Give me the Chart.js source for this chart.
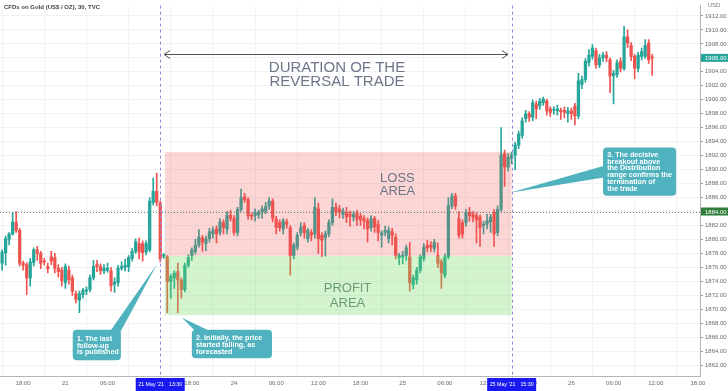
<!DOCTYPE html>
<html>
<head>
<meta charset="utf-8">
<script src="https://cdn.jsdelivr.net/npm/chart.js@4.4.0/dist/chart.umd.min.js"></script>
<style>
  html, body { margin: 0; padding: 0; background: #fff; }
  #wrap { width: 728px; height: 391px; }
</style>
</head>
<body>
<div id="wrap"><canvas id="chart" width="728" height="391"></canvas></div>
<script>
// ---- data (30 min candles, bar index 0 = 20 May 18:00) ----
const firstBar = -6;

const openP = [
  1876.6, 1878.1, 1880.0, 1880.8, 1882.5, 1881.3,
  1876.6, 1876.4, 1874.5, 1876.7, 1878.5, 1878.0, 1876.9, 1876.1, 1877.5, 1877.4,
  1875.9, 1875.6, 1873.8, 1875.6, 1874.5, 1872.2, 1871.3, 1872.1, 1872.6, 1872.8,
  1874.5, 1876.4, 1876.1, 1875.5, 1875.6, 1875.5, 1873.6, 1873.8, 1875.9, 1876.0,
  1876.1, 1877.3, 1878.3, 1879.4, 1879.4, 1878.2, 1878.5, 1885.3, 1886.9, 1885.2,
  1877.6, 1877.5, 1874.0, 1874.5, 1875.4, 1874.2, 1872.8, 1876.3, 1877.7, 1878.3,
  1879.2, 1880.2, 1879.4, 1880.1, 1880.8, 1881.5, 1881.0, 1882.4, 1881.5, 1883.5,
  1883.0, 1881.0, 1884.3, 1886.1, 1885.7, 1883.4, 1883.4, 1883.5, 1883.9, 1884.1,
  1884.8, 1885.5, 1882.9, 1882.4, 1881.5, 1882.5, 1881.7, 1877.7, 1878.9, 1880.9,
  1882.0, 1880.1, 1881.0, 1880.8, 1884.4, 1880.6, 1880.3, 1880.8, 1882.4, 1884.6,
  1884.4, 1883.6, 1883.9, 1883.6, 1883.2, 1883.8, 1883.3, 1883.0, 1882.7, 1881.7,
  1883.0, 1882.2, 1880.6, 1881.0, 1880.1, 1881.1, 1880.3, 1877.4, 1877.5, 1877.7,
  1877.5, 1873.5, 1874.2, 1875.6, 1877.3, 1879.2, 1879.2, 1878.7, 1877.7, 1876.8,
  1874.9, 1877.5, 1884.8, 1886.2, 1883.0, 1882.4, 1882.4, 1883.9, 1883.6, 1883.4,
  1883.2, 1882.0, 1882.2, 1882.5, 1883.9, 1881.0, 1884.3, 1892.3, 1890.4, 1891.6,
  1892.1, 1893.5, 1894.9, 1897.3, 1898.0, 1897.5, 1899.4, 1899.1, 1899.6, 1899.8,
  1898.7, 1898.5, 1898.4, 1898.5, 1898.5, 1898.0, 1898.4, 1899.1, 1897.7, 1902.2,
  1902.9, 1905.3, 1906.2, 1907.0, 1905.0, 1906.0, 1906.4, 1905.7, 1903.4, 1903.6,
  1905.5, 1904.5, 1909.0, 1907.8, 1906.2, 1904.5, 1906.2, 1906.2, 1908.1, 1906.1
];
const highP = [
  1878.5, 1880.5, 1881.0, 1883.9, 1884.0, 1881.6,
  1876.9, 1876.7, 1877.3, 1878.8, 1879.0, 1878.3, 1877.3, 1876.6, 1878.3, 1878.0,
  1876.4, 1876.0, 1876.5, 1876.2, 1874.9, 1872.6, 1872.6, 1873.0, 1873.2, 1874.9,
  1877.0, 1877.0, 1876.5, 1876.4, 1876.6, 1876.0, 1874.5, 1876.3, 1876.8, 1877.2,
  1877.7, 1878.7, 1880.1, 1880.2, 1879.8, 1879.8, 1886.0, 1888.8, 1889.5, 1885.5,
  1878.0, 1877.7, 1875.0, 1875.5, 1876.6, 1874.5, 1876.6, 1877.8, 1878.8, 1880.0,
  1881.4, 1880.6, 1880.5, 1881.6, 1881.8, 1881.9, 1883.0, 1882.8, 1884.0, 1884.2,
  1883.4, 1884.6, 1887.2, 1886.6, 1886.0, 1883.8, 1884.4, 1884.2, 1884.8, 1885.3,
  1886.0, 1885.8, 1883.3, 1882.8, 1883.0, 1882.9, 1882.0, 1879.5, 1881.0, 1882.4,
  1882.4, 1881.6, 1881.4, 1886.0, 1885.2, 1881.0, 1881.2, 1882.8, 1885.8, 1885.2,
  1884.9, 1884.5, 1884.6, 1884.1, 1884.0, 1884.2, 1883.7, 1883.4, 1883.1, 1883.4,
  1883.3, 1882.7, 1881.2, 1881.9, 1881.8, 1881.6, 1880.8, 1878.0, 1878.3, 1879.2,
  1879.6, 1874.9, 1876.0, 1877.8, 1879.4, 1879.9, 1879.7, 1880.0, 1879.5, 1877.2,
  1877.9, 1886.0, 1886.6, 1886.6, 1884.0, 1882.8, 1884.3, 1884.6, 1884.0, 1883.8,
  1883.5, 1882.6, 1883.6, 1883.6, 1884.3, 1884.8, 1896.0, 1892.8, 1892.3, 1892.5,
  1893.9, 1895.5, 1897.4, 1898.5, 1898.3, 1900.0, 1899.8, 1900.2, 1900.4, 1900.1,
  1899.0, 1899.0, 1899.2, 1898.8, 1899.0, 1898.9, 1898.8, 1899.5, 1903.8, 1903.4,
  1905.9, 1907.2, 1907.9, 1907.4, 1906.5, 1906.8, 1906.9, 1906.0, 1904.2, 1905.7,
  1906.0, 1910.5, 1910.0, 1908.2, 1906.5, 1906.8, 1907.4, 1908.6, 1908.6, 1906.5
];
const lowP = [
  1875.6, 1876.3, 1879.2, 1880.6, 1881.0, 1876.2,
  1875.6, 1872.1, 1873.3, 1876.2, 1877.0, 1875.8, 1876.3, 1875.2, 1876.4, 1875.2,
  1874.6, 1873.3, 1873.0, 1873.6, 1872.0, 1870.9, 1869.5, 1871.6, 1872.1, 1872.5,
  1874.2, 1875.4, 1875.0, 1875.1, 1875.3, 1872.6, 1872.4, 1873.3, 1875.6, 1875.5,
  1875.4, 1876.9, 1878.0, 1877.2, 1876.9, 1877.8, 1878.2, 1884.9, 1884.8, 1876.8,
  1877.3, 1869.5, 1871.6, 1873.0, 1869.5, 1871.6, 1872.5, 1876.0, 1877.0, 1877.9,
  1878.9, 1878.3, 1878.4, 1879.6, 1880.2, 1879.5, 1880.6, 1880.8, 1880.8, 1882.6,
  1880.6, 1880.5, 1884.0, 1885.3, 1882.9, 1882.8, 1882.6, 1883.0, 1883.0, 1883.7,
  1884.3, 1882.5, 1880.8, 1881.2, 1880.8, 1881.6, 1874.9, 1877.2, 1878.5, 1880.5,
  1880.2, 1879.6, 1879.8, 1880.2, 1878.0, 1877.5, 1877.6, 1880.4, 1882.0, 1883.4,
  1883.1, 1883.0, 1882.4, 1881.9, 1882.6, 1882.0, 1882.0, 1881.5, 1879.6, 1881.2,
  1881.0, 1879.8, 1878.9, 1880.5, 1879.5, 1879.2, 1877.2, 1876.4, 1876.5, 1877.0,
  1872.6, 1872.9, 1873.6, 1875.2, 1876.9, 1878.2, 1878.3, 1878.2, 1876.0, 1873.0,
  1874.5, 1877.2, 1884.4, 1884.3, 1880.2, 1880.2, 1881.9, 1882.6, 1882.5, 1879.5,
  1879.0, 1880.8, 1881.5, 1881.0, 1879.0, 1880.5, 1884.0, 1887.6, 1889.8, 1890.8,
  1890.0, 1893.0, 1894.5, 1896.8, 1896.9, 1897.0, 1897.3, 1898.6, 1899.2, 1897.8,
  1897.6, 1897.9, 1897.8, 1897.2, 1897.4, 1896.8, 1897.2, 1896.4, 1897.3, 1901.6,
  1902.5, 1904.8, 1905.8, 1904.5, 1904.6, 1905.5, 1905.4, 1901.0, 1899.4, 1903.2,
  1904.0, 1904.2, 1907.5, 1905.6, 1903.0, 1904.0, 1905.7, 1905.9, 1905.2, 1903.5
];
const closeP = [
  1878.2, 1880.1, 1880.8, 1882.5, 1881.3, 1876.6,
  1876.3, 1874.5, 1876.8, 1878.5, 1878.0, 1876.6, 1876.8, 1875.8, 1876.9, 1875.9,
  1875.4, 1874.1, 1876.1, 1874.2, 1872.6, 1871.4, 1872.2, 1872.7, 1872.8, 1874.5,
  1876.1, 1876.1, 1875.5, 1875.9, 1875.9, 1873.4, 1873.9, 1875.9, 1876.1, 1876.3,
  1877.4, 1878.3, 1879.7, 1878.2, 1878.1, 1879.4, 1885.5, 1886.9, 1885.3, 1877.2,
  1877.8, 1874.0, 1874.7, 1875.2, 1874.2, 1872.8, 1876.3, 1877.4, 1878.5, 1879.2,
  1880.3, 1879.6, 1880.1, 1881.1, 1881.3, 1880.8, 1882.5, 1881.7, 1883.5, 1883.0,
  1881.0, 1884.3, 1886.0, 1885.7, 1883.4, 1883.3, 1883.9, 1883.9, 1884.4, 1884.7,
  1885.5, 1883.0, 1881.7, 1881.7, 1882.7, 1882.2, 1877.7, 1879.2, 1880.6, 1881.7,
  1881.0, 1881.3, 1880.6, 1884.6, 1880.1, 1879.9, 1880.8, 1882.4, 1884.6, 1883.9,
  1883.9, 1884.1, 1883.2, 1883.3, 1883.6, 1882.9, 1882.8, 1882.6, 1881.5, 1883.0,
  1881.8, 1881.0, 1880.9, 1881.3, 1881.3, 1880.6, 1877.7, 1877.7, 1877.7, 1878.8,
  1873.8, 1874.5, 1875.6, 1877.5, 1878.9, 1878.8, 1878.9, 1879.6, 1876.6, 1875.2,
  1877.5, 1884.8, 1886.2, 1884.8, 1880.6, 1880.8, 1883.9, 1883.4, 1883.2, 1882.8,
  1881.7, 1882.2, 1882.7, 1883.2, 1880.8, 1884.3, 1892.1, 1890.4, 1891.8, 1892.1,
  1893.5, 1895.1, 1897.0, 1898.0, 1897.5, 1899.6, 1898.7, 1899.8, 1900.1, 1898.4,
  1898.2, 1898.6, 1898.7, 1898.3, 1898.2, 1898.4, 1898.0, 1897.7, 1902.7, 1902.9,
  1905.5, 1906.4, 1907.4, 1905.0, 1906.0, 1906.4, 1906.0, 1903.4, 1903.8, 1905.3,
  1904.5, 1909.0, 1908.1, 1906.2, 1904.5, 1906.4, 1906.9, 1907.8, 1905.7, 1906.0
];

const xTickBars = [0, 12, 24, 36, 48, 60, 72, 84, 96, 108, 120, 132, 144, 156, 168, 180, 192];
const xTickLabels = ['18:00', '21', '06:00', '12:00', '18:00', '24', '06:00', '12:00', '18:00',
                     '25', '06:00', '12:00', '18:00', '26', '06:00', '12:00', '18:00'];
const yTickValues = [1862, 1864, 1866, 1868, 1870, 1872, 1874, 1876, 1878, 1880, 1882, 1884, 1886,
                     1888, 1890, 1892, 1894, 1896, 1898, 1900, 1902, 1904, 1906, 1908, 1910, 1912];

// trade markers and zones
const markerBars = [39, 139];
const markerDates = ["21 May '21", "25 May '21"];
const markerTimes = ['13:30', '15:30'];
const zoneStartBar = 40.3;
const zoneEndBar = 139;
const stopLevel = 1892.5;
const entryLevel = 1877.65;
const targetLevel = 1869.15;
const refPrice = 1884;
const lastPrice = 1906;

const GREEN = '#26a69a';
const RED = '#ef5350';
const TEAL_BOX = '#4fb2be';
const SLATE = '#6c7689';

const callouts = [
  { fromBar: 14.1, toBar: 27.8, top: 1867.07, bottom: 1862.7, tip: [38.1, 1876.5],
    base: [[24.4, 1866.6], [27.5, 1866.6]], textTop: 9,
    lines: ['1. The last', 'follow-up', 'is published'] },
  { fromBar: 48.0, toBar: 70.8, top: 1867.07, bottom: 1863.0, tip: [45.2, 1868.8],
    base: [[49.5, 1866.6], [54.3, 1866.6]], textTop: 8.5,
    lines: ['2. Initially, the price', 'started falling, as', 'forecasted'] },
  { fromBar: 165.0, toBar: 185.8, top: 1893.17, bottom: 1886.26, tip: [138.5, 1886.7],
    base: [[165.6, 1890.6], [165.6, 1888.9]], textTop: 7.3,
    lines: ['3. The decisive', 'breakout above', 'the Distribution', 'range confirms the', 'termination of', 'the trade'] }
];

const candleColors = closeP.map((c, i) => (c >= openP[i] ? GREEN : RED));

const bodies = openP.map((o, i) => ({ x: firstBar + i, y: [o, closeP[i]] }));
const wicks = lowP.map((l, i) => ({ x: firstBar + i, y: [l, highP[i]] }));

// ---- overlays drawn with the chart's scales ----
const overlayPlugin = {
  id: 'overlay',
  afterDatasetsDraw(chart) {
    const { ctx, chartArea: area, scales: { x, y } } = chart;
    const px = v => x.getPixelForValue(v);
    const py = v => y.getPixelForValue(v);

    ctx.save();
    // loss / profit zones
    const zl = px(zoneStartBar), zr = px(zoneEndBar);
    ctx.fillStyle = 'rgba(239, 83, 80, 0.24)';
    ctx.fillRect(zl, py(stopLevel), zr - zl, py(entryLevel) - py(stopLevel));
    ctx.fillStyle = 'rgba(112, 220, 90, 0.3)';
    ctx.fillRect(zl, py(entryLevel), zr - zl, py(targetLevel) - py(entryLevel));

    ctx.textAlign = 'center';
    ctx.textBaseline = 'middle';
    ctx.font = '13px "Liberation Sans", Arial, sans-serif';
    ctx.fillStyle = SLATE;
    ctx.fillText('LOSS', px(106.5), py(1888.75));
    ctx.fillText('AREA', px(106.5), py(1886.9));
    ctx.fillStyle = '#6a9a7c';
    ctx.fillText('PROFIT', px(92.3), py(1873.0));
    ctx.fillText('AREA', px(92.3), py(1870.9));

    // reference price dotted line
    ctx.strokeStyle = '#6f7d72';
    ctx.lineWidth = 1;
    ctx.setLineDash([1, 2]);
    ctx.beginPath();
    ctx.moveTo(area.left, Math.round(py(refPrice)) + 0.5);
    ctx.lineTo(area.right, Math.round(py(refPrice)) + 0.5);
    ctx.stroke();

    // vertical dashed markers
    ctx.strokeStyle = '#9486d8';
    ctx.setLineDash([3, 3]);
    markerBars.forEach(b => {
      const xx = Math.round(px(b)) + 0.5;
      ctx.beginPath();
      ctx.moveTo(xx, area.top);
      ctx.lineTo(xx, area.bottom + 3);
      ctx.stroke();
    });
    ctx.setLineDash([]);

    // duration arrow
    const ay = Math.round(py(1906.57)) + 0.5;
    const a1 = px(40.1), a2 = px(137.95);
    ctx.strokeStyle = '#555';
    ctx.beginPath();
    ctx.moveTo(a1, ay); ctx.lineTo(a2, ay);
    ctx.moveTo(a1 + 6, ay - 4); ctx.lineTo(a1, ay); ctx.lineTo(a1 + 6, ay + 4);
    ctx.moveTo(a2 - 6, ay - 4); ctx.lineTo(a2, ay); ctx.lineTo(a2 - 6, ay + 4);
    ctx.stroke();

    ctx.font = '15px "Liberation Sans", Arial, sans-serif';
    ctx.fillStyle = SLATE;
    ctx.fillText('DURATION OF THE', px(89.3), py(1904.6));
    ctx.fillText('REVERSAL TRADE', px(89.3), py(1902.6));

    // callouts
    callouts.forEach(c => {
      const l = px(c.fromBar), r = px(c.toBar), t = py(c.top), b = py(c.bottom);
      ctx.fillStyle = TEAL_BOX;
      ctx.beginPath();
      ctx.roundRect(l, t, r - l, b - t, 4);
      ctx.fill();
      ctx.beginPath();
      ctx.moveTo(px(c.tip[0]), py(c.tip[1]));
      ctx.lineTo(px(c.base[0][0]), py(c.base[0][1]));
      ctx.lineTo(px(c.base[1][0]), py(c.base[1][1]));
      ctx.closePath();
      ctx.fill();
      ctx.fillStyle = '#fff';
      ctx.font = 'bold 7.2px "Liberation Sans", Arial, sans-serif';
      ctx.textAlign = 'left';
      c.lines.forEach((s, i) => ctx.fillText(s, l + 4.2, t + c.textTop + i * 6.8));
      ctx.textAlign = 'center';
    });
    ctx.restore();
  },
  afterDraw(chart) {
    const { ctx, chartArea: area, scales: { x, y } } = chart;
    const px = v => x.getPixelForValue(v);
    const py = v => y.getPixelForValue(v);
    ctx.save();
    ctx.textBaseline = 'middle';

    // price labels on the right axis
    [[refPrice, '#2e7d3a'], [lastPrice, GREEN]].forEach(([v, col]) => {
      const yy = py(v);
      ctx.fillStyle = col;
      ctx.fillRect(area.right + 1, yy - 4, 27, 8);
      ctx.fillStyle = '#fff';
      ctx.font = '6px "Liberation Sans", Arial, sans-serif';
      ctx.textAlign = 'left';
      ctx.fillText(v.toFixed(2), area.right + 5, yy + 0.5);
    });

    // "USD" caption
    ctx.fillStyle = '#fff';
    ctx.fillRect(area.right + 1, 0, 27, 8);
    ctx.fillStyle = '#777';
    ctx.font = '6px "Liberation Sans", Arial, sans-serif';
    ctx.textAlign = 'center';
    ctx.fillText('USD', area.right + 14, 5);

    // date/time markers on the time axis
    markerBars.forEach((b, i) => {
      const cx = px(b);
      ctx.fillStyle = '#1a1af0';
      ctx.fillRect(cx - 24.5, area.bottom + 2, 49, 13);
      ctx.fillStyle = '#fff';
      ctx.font = '5.3px "Liberation Sans", Arial, sans-serif';
      ctx.textAlign = 'left';
      ctx.fillText(markerDates[i], cx - 22, area.bottom + 8.5);
      ctx.textAlign = 'right';
      ctx.fillText(markerTimes[i], cx + 22, area.bottom + 8.5);
    });

    // title
    ctx.fillStyle = '#444';
    ctx.font = 'bold 6px "Liberation Sans", Arial, sans-serif';
    ctx.textAlign = 'left';
    ctx.fillText('CFDs on Gold (US$ / OZ), 30, TVC', 4, 7.5);
    ctx.restore();
  }
};

new Chart(document.getElementById('chart'), {
  type: 'bar',
  data: {
    datasets: [
      {
        label: 'body',
        data: bodies,
        backgroundColor: candleColors,
        barThickness: 2.6,
        minBarLength: 1,
        grouped: false
      },
      {
        label: 'wick',
        data: wicks,
        backgroundColor: candleColors,
        barThickness: 1,
        grouped: false
      }
    ]
  },
  options: {
    responsive: false,
    devicePixelRatio: 1,
    animation: false,
    layout: { padding: 0 },
    plugins: { legend: { display: false }, tooltip: { enabled: false } },
    scales: {
      x: {
        type: 'linear',
        min: -6.6,
        max: 192.6,
        offset: false,
        afterBuildTicks: s => { s.ticks = xTickBars.map(v => ({ value: v })); },
        afterFit: s => { s.height = 15; },
        ticks: {
          autoSkip: false,
          maxRotation: 0,
          padding: 4,
          color: '#6a6a6a',
          font: { size: 6, family: '"Liberation Sans", Arial, sans-serif' },
          callback: v => xTickLabels[xTickBars.indexOf(v)]
        },
        grid: { color: '#f0f2f6', drawTicks: false },
        border: { color: '#b5b5b5' }
      },
      y: {
        position: 'right',
        min: 1860.45,
        max: 1913.48,
        afterBuildTicks: s => { s.ticks = yTickValues.map(v => ({ value: v })); },
        afterFit: s => { s.width = 28; },
        ticks: {
          padding: 2,
          color: '#6a6a6a',
          font: { size: 6, family: '"Liberation Sans", Arial, sans-serif' },
          callback: v => v.toFixed(2)
        },
        grid: { color: '#f0f2f6', tickLength: 3, tickColor: '#999' },
        border: { color: '#b5b5b5' }
      }
    }
  },
  plugins: [overlayPlugin]
});
</script>
</body>
</html>
